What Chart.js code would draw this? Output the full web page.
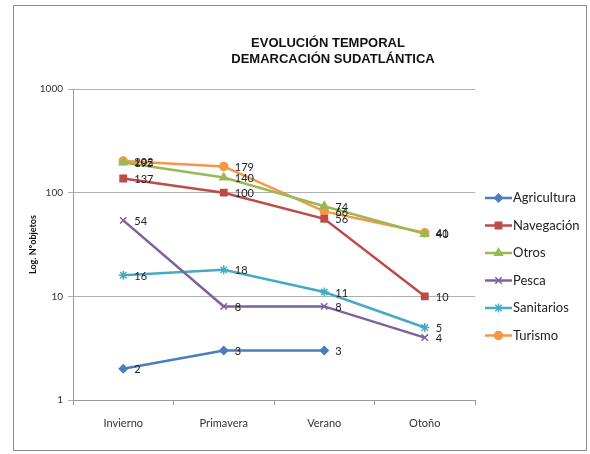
<!DOCTYPE html>
<html>
<head>
<meta charset="utf-8">
<script src="https://cdn.jsdelivr.net/npm/chart.js@4.4.1/dist/chart.umd.min.js"></script>
<style>
html,body{margin:0;padding:0;background:#fff;}
#wrap{position:relative;width:590px;height:454px;}
</style>
</head>
<body>
<div id="wrap"><canvas id="c" width="590" height="454"></canvas></div>
<script>
const categories = ['Invierno', 'Primavera', 'Verano', 'Otoño'];
const agricultura = [2, 3, 3, null];
const navegacion = [137, 100, 56, 10];
const otros = [195, 140, 74, 40];
const pesca = [54, 8, 8, 4];
const sanitarios = [16, 18, 11, 5];
const turismo = [202, 179, 66, 41];
const yTicks = [1, 10, 100, 1000];
const titleLines = ['EVOLUCIÓN TEMPORAL', 'DEMARCACIÓN SUDATLÁNTICA'];
const yTitle = 'Log. Nºobjetos';

const FONT = 'Lato, "Liberation Sans", sans-serif';

function ds(label, data, color, style, radius) {
  return {
    label, data,
    borderColor: color, backgroundColor: color,
    pointBackgroundColor: color, pointBorderColor: color,
    pointStyle: style, pointRadius: radius, pointBorderWidth: 1.5,
    borderWidth: 2.5, tension: 0, spanGaps: false, clip: false
  };
}

const datasets = [
  ds('Agricultura', agricultura, '#4A7EBB', 'rectRot', 4),
  ds('Navegación', navegacion, '#BE4B48', 'rect', 4.5),
  ds('Otros', otros, '#98B954', 'triangle', 4.5),
  ds('Pesca', pesca, '#7D60A0', 'crossRot', 4.5),
  ds('Sanitarios', sanitarios, '#46AAC5', 'star', 4.5),
  ds('Turismo', turismo, '#F79646', 'circle', 4)
];

const framePlugin = {
  id: 'frame',
  beforeDraw(chart) {
    const ctx = chart.ctx;
    ctx.save();
    ctx.fillStyle = '#fff';
    ctx.fillRect(0, 0, chart.width, chart.height);
    ctx.strokeStyle = '#8c8c8c';
    ctx.lineWidth = 1;
    ctx.strokeRect(13.5, 5.5, 573, 445);
    ctx.restore();
  },
  afterDraw(chart) {
    const ctx = chart.ctx;
    ctx.save();
    // title
    ctx.fillStyle = '#111';
    ctx.font = 'bold 13px "Liberation Sans", Arial, sans-serif';
    ctx.textAlign = 'center';
    ctx.textBaseline = 'middle';
    ctx.fillText(titleLines[0], 328, 43);
    ctx.fillText(titleLines[1], 333, 59);
    // data labels
    ctx.font = '11px ' + FONT;
    ctx.textAlign = 'left';
    ctx.fillStyle = '#222';
    chart.data.datasets.forEach((d, i) => {
      const meta = chart.getDatasetMeta(i);
      meta.data.forEach((pt, j) => {
        const v = d.data[j];
        if (v === null || v === undefined) return;
        ctx.fillText(String(v), pt.x + 11, pt.y + 1);
      });
    });
    // legend
    const lx0 = 485, lx1 = 512, ly0 = 198, step = 27.5;
    chart.data.datasets.forEach((d, i) => {
      const y = ly0 + i * step;
      ctx.strokeStyle = d.borderColor;
      ctx.lineWidth = 2.5;
      ctx.beginPath();
      ctx.moveTo(lx0, y);
      ctx.lineTo(lx1, y);
      ctx.stroke();
      ctx.fillStyle = d.pointBackgroundColor;
      ctx.strokeStyle = d.pointBorderColor;
      ctx.lineWidth = 1.5;
      if (Chart.helpers && Chart.helpers.drawPoint) {
        Chart.helpers.drawPoint(ctx, {pointStyle: d.pointStyle, radius: d.pointRadius, borderWidth: 1.5, rotation: 0}, (lx0 + lx1) / 2, y);
      }
      ctx.fillStyle = '#222';
      ctx.font = '13px ' + FONT;
      ctx.textBaseline = 'middle';
      ctx.fillText(d.label, 513, y);
    });
    ctx.restore();
  }
};

new Chart(document.getElementById('c'), {
  type: 'line',
  data: { labels: categories, datasets },
  options: {
    responsive: false,
    animation: false,
    devicePixelRatio: 1,
    layout: { padding: { left: 0, top: 89, right: 115, bottom: 0 } },
    plugins: { legend: { display: false }, title: { display: false }, tooltip: { enabled: false } },
    scales: {
      x: {
        type: 'category',
        offset: true,
        grid: { offset: true, drawOnChartArea: false, drawTicks: true, tickLength: 5, color: '#9a9a9a' },
        border: { color: '#9a9a9a', width: 1 },
        ticks: { font: { family: FONT, size: 11 }, color: '#333', padding: 12, maxRotation: 0 },
        afterFit: s => { s.height = 54; }
      },
      y: {
        type: 'logarithmic',
        min: 1, max: 1000,
        afterBuildTicks: s => { s.ticks = yTicks.map(v => ({ value: v })); },
        ticks: { font: { family: FONT, size: 10 }, color: '#333', padding: 5, callback: v => String(v) },
        grid: { color: '#b0b0b0', tickLength: 5, drawTicks: true },
        border: { color: '#9a9a9a', width: 1 },
        title: { display: true, text: yTitle, font: { family: FONT, size: 9, weight: 'bold' }, color: '#111', padding: { top: 28, bottom: 0 } },
        afterFit: s => { s.width = 73; }
      }
    }
  },
  plugins: [framePlugin]
});
</script>
</body>
</html>
